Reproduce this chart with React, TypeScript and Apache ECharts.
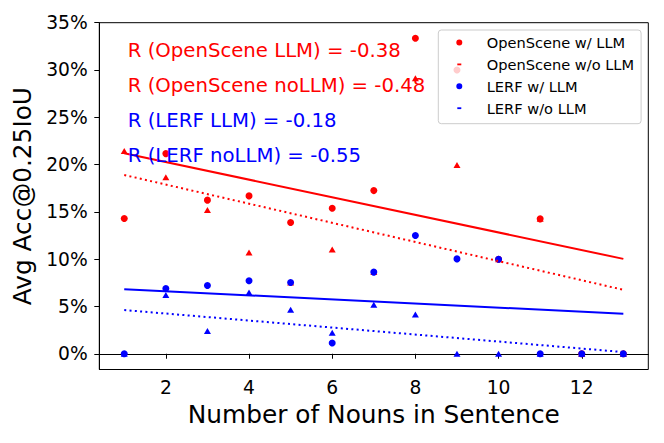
import React, { useEffect, useRef } from "react";
import * as echarts from "echarts";

// x categories: number of nouns in sentence
const nouns = [1, 2, 3, 4, 5, 6, 7, 8, 9, 10, 11, 12, 13];

// Avg Acc@0.25IoU (%)
const openSceneLLM = [14.29, 21.16, 16.24, 16.69, 13.87, 15.39, 17.25, 33.35, 30.0, 10.0, 14.26, 0, 0];
const openSceneNoLLM = [21.44, 18.66, 15.21, 10.7, 7.53, 11.02, 8.63, 29.12, 19.96, 10.0, 14.26, 0, 0];
const lerfLLM = [0, 6.9, 7.21, 7.71, 7.53, 1.13, 8.63, 12.5, 10.03, 10.0, 0, 0, 0];
const lerfNoLLM = [0, 6.2, 2.4, 6.48, 4.65, 2.22, 5.18, 4.15, 0, 0, 0, 0, 0];

// regression line end points [x, y%]
const fitOpenSceneLLM = [[1, 21.2], [13, 10.03]];
const fitOpenSceneNoLLM = [[1, 18.9], [13, 6.76]];
const fitLerfLLM = [[1, 6.83], [13, 4.23]];
const fitLerfNoLLM = [[1, 4.62], [13, 0.18]];

const xTicks = [2, 4, 6, 8, 10, 12];
const yTicks = [0, 5, 10, 15, 20, 25, 30, 35];

const annotations = [
  { text: "R (OpenScene LLM) = -0.38", color: "#ff0000" },
  { text: "R (OpenScene noLLM) = -0.48", color: "#ff0000" },
  { text: "R (LERF LLM) = -0.18", color: "#0000ff" },
  { text: "R (LERF noLLM) = -0.55", color: "#0000ff" },
];

const seriesNames = ["OpenScene w/ LLM", "OpenScene w/o LLM", "LERF w/ LLM", "LERF w/o LLM"];

const FONT = "DejaVu Sans";
const RED = "#ff0000";
const BLUE = "#0000ff";

const circleIcon = "path://M0,0M26,7M0.6,3.5A3,3,0,1,0,6.6,3.5A3,3,0,1,0,0.6,3.5Z";
const dashIcon = "path://M0,0M26,7M1.6,2.6h4v1.8h-4Z";

function pairs(ys: number[]) {
  return nouns.map((x, i) => [x, ys[i]]);
}

export default function App() {
  const ref = useRef<HTMLDivElement>(null);
  useEffect(() => {
    if (!ref.current) return;
    const chart = echarts.init(ref.current, undefined, { renderer: "svg" });
    const axisText = { color: "#000", fontSize: 18.7, fontFamily: FONT };
    const scatter = (name: string, ys: number[], color: string, tri: boolean) => ({
      name,
      type: "scatter",
      data: pairs(ys),
      symbol: tri ? "triangle" : "circle",
      symbolSize: tri ? [7, 6] : 7,
      itemStyle: { color, opacity: 1 },
      z: 2,
    });
    const fit = (name: string, d: number[][], color: string, dotted: boolean) => ({
      name,
      type: "line",
      data: d,
      showSymbol: false,
      symbol: "none",
      lineStyle: { color, width: 2, type: dotted ? [2, 3.3] : "solid", cap: "butt" },
      z: 3,
    });
    chart.setOption({
      animation: false,
      backgroundColor: "#fff",
      grid: {
        left: 99.3,
        right: 15.7,
        top: 22.7,
        bottom: 73.5,
        show: true,
        borderColor: "#000",
        borderWidth: 1,
        containLabel: false,
      },
      xAxis: {
        type: "value",
        min: 0.4,
        max: 13.6,
        name: "Number of Nouns in Sentence",
        nameLocation: "middle",
        nameGap: 32.5,
        nameTextStyle: { color: "#000", fontSize: 24.8, fontFamily: FONT },
        axisLine: { show: true, lineStyle: { color: "#000", width: 1 } },
        axisTick: { show: true, length: 5, customValues: xTicks, lineStyle: { color: "#000", width: 1 } },
        axisLabel: { ...axisText, margin: 8.5, customValues: xTicks },
        splitLine: { show: false },
      },
      yAxis: {
        type: "value",
        min: -1.665,
        max: 35,
        name: "Avg Acc@0.25IoU",
        nameLocation: "middle",
        nameGap: 59.5,
        nameTextStyle: { color: "#000", fontSize: 24.8, fontFamily: FONT },
        axisLine: { show: true, lineStyle: { color: "#000", width: 1 } },
        axisTick: { show: true, length: 5, customValues: yTicks, lineStyle: { color: "#000", width: 1 } },
        axisLabel: { ...axisText, margin: 11.6, customValues: yTicks, formatter: (v: number) => `${v}%` },
        splitLine: { show: false },
      },
      legend: {
        orient: "vertical",
        left: 438.3,
        top: 30,
        padding: [5, 7, 8, 17.4],
        itemGap: 6.9,
        itemWidth: 26,
        itemHeight: 7,
        backgroundColor: "rgba(255,255,255,0.8)",
        borderColor: "#cccccc",
        borderWidth: 1,
        borderRadius: 3,
        textStyle: { color: "#000", fontSize: 14.6, fontFamily: FONT },
        data: [
          { name: seriesNames[0], icon: circleIcon },
          { name: seriesNames[1], icon: dashIcon },
          { name: seriesNames[2], icon: circleIcon },
          { name: seriesNames[3], icon: dashIcon },
        ],
        selectedMode: false,
      },
      graphic: annotations.map((a, i) => ({
        type: "text",
        x: 127.7,
        y: 50.7 + i * 34.8,
        z: 10,
        style: {
          text: a.text,
          fill: a.color,
          fontSize: 19.7,
          fontFamily: FONT,
          align: "left",
          verticalAlign: "middle",
        },
      })),
      series: [
        scatter(seriesNames[0], openSceneLLM, RED, false),
        scatter(seriesNames[1], openSceneNoLLM, RED, true),
        scatter(seriesNames[2], lerfLLM, BLUE, false),
        scatter(seriesNames[3], lerfNoLLM, BLUE, true),
        fit("fit OpenScene LLM", fitOpenSceneLLM, RED, false),
        fit("fit OpenScene noLLM", fitOpenSceneNoLLM, RED, true),
        fit("fit LERF LLM", fitLerfLLM, BLUE, false),
        fit("fit LERF noLLM", fitLerfNoLLM, BLUE, true),
      ],
    });
    return () => chart.dispose();
  }, []);
  return (
    <div
      ref={ref}
      style={{ position: "absolute", left: 0, top: 0, width: 664, height: 443, background: "#fff" }}
    />
  );
}
